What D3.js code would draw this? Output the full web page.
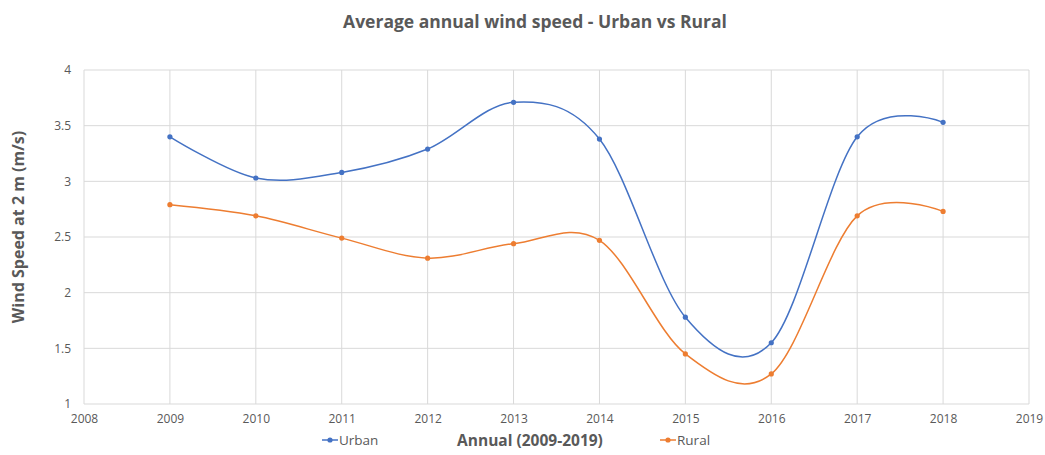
<!DOCTYPE html>
<html>
<head>
<meta charset="utf-8">
<script src="https://cdn.jsdelivr.net/npm/d3@7"></script>
<style>
  body { margin: 0; background: #fff; }
  svg { display: block; }
</style>
</head>
<body>
<svg id="chart"></svg>
<script>
// data
const years = [2009, 2010, 2011, 2012, 2013, 2014, 2015, 2016, 2017, 2018];
const urban = [3.40, 3.03, 3.08, 3.29, 3.71, 3.38, 1.78, 1.55, 3.40, 3.53];
const rural = [2.79, 2.69, 2.49, 2.31, 2.44, 2.47, 1.45, 1.27, 2.69, 2.73];
const xTicks = [2008, 2009, 2010, 2011, 2012, 2013, 2014, 2015, 2016, 2017, 2018, 2019];
const yTicks = [1, 1.5, 2, 2.5, 3, 3.5, 4];

const width = 1045;
const height = 455;
const margin = { top: 70, right: 16, bottom: 51, left: 84 };
const chartWidth = width - margin.left - margin.right;
const chartHeight = height - margin.top - margin.bottom;

const fontFamily = "'Open Sans', 'Noto Sans', sans-serif";
const textColor = "#595959";

const series = [
    { name: "Urban", values: urban, colour: "#4472C4" },
    { name: "Rural", values: rural, colour: "#ED7D31" }
];

const svg = d3.select("#chart")
    .attr("width", width)
    .attr("height", height);

const xScale = d3.scaleLinear()
    .domain([2008, 2019])
    .range([0, chartWidth]);

const yScale = d3.scaleLinear()
    .domain([1, 4])
    .range([chartHeight, 0]);

const chart = svg.append("g")
    .attr("transform", "translate(" + margin.left + "," + margin.top + ")");

// gridlines
chart.append("g")
    .selectAll("line.h")
    .data(yTicks)
    .join("line")
    .attr("x1", 0)
    .attr("x2", chartWidth)
    .attr("y1", d => yScale(d))
    .attr("y2", d => yScale(d))
    .style("stroke", "#d9d9d9")
    .style("stroke-width", 1);

chart.append("g")
    .selectAll("line.v")
    .data(xTicks)
    .join("line")
    .attr("x1", d => xScale(d))
    .attr("x2", d => xScale(d))
    .attr("y1", 0)
    .attr("y2", chartHeight)
    .style("stroke", "#d9d9d9")
    .style("stroke-width", 1);

// axes, text only
const xAxis = d3.axisBottom(xScale)
    .tickValues(xTicks)
    .tickFormat(d3.format("d"))
    .tickSize(0)
    .tickPadding(10);

const yAxis = d3.axisLeft(yScale)
    .tickValues(yTicks)
    .tickFormat(d => d)
    .tickSize(0)
    .tickPadding(13);

const gx = chart.append("g")
    .attr("transform", "translate(0," + chartHeight + ")")
    .call(xAxis);
const gy = chart.append("g").call(yAxis);

[gx, gy].forEach(g => {
    g.select(".domain").remove();
    g.selectAll("text")
        .style("font-family", fontFamily)
        .style("font-size", "12px")
        .style("fill", textColor);
});

// lines and markers
series.forEach(s => {
    const lineData = d3.line()
        .x((d, i) => xScale(years[i]))
        .y(d => yScale(d))
        .curve(d3.curveCardinal.tension(0));

    chart.append("path")
        .datum(s.values)
        .style("fill", "none")
        .style("stroke", s.colour)
        .style("stroke-width", "1.5px")
        .attr("d", lineData);

    chart.append("g")
        .selectAll("circle")
        .data(s.values)
        .join("circle")
        .attr("cx", (d, i) => xScale(years[i]))
        .attr("cy", d => yScale(d))
        .attr("r", 2.6)
        .style("fill", s.colour);
});

// title
svg.append("text")
    .attr("x", 535)
    .attr("y", 28)
    .attr("text-anchor", "middle")
    .style("font-family", fontFamily)
    .style("font-size", "17.5px")
    .style("font-weight", "bold")
    .style("fill", textColor)
    .text("Average annual wind speed - Urban vs Rural");

// axis titles
svg.append("text")
    .attr("x", 530)
    .attr("y", 446)
    .attr("text-anchor", "middle")
    .style("font-family", fontFamily)
    .style("font-size", "15.5px")
    .style("font-weight", "bold")
    .style("fill", textColor)
    .text("Annual (2009-2019)");

svg.append("text")
    .attr("transform", "translate(24," + (margin.top + chartHeight / 2 - 10) + ") rotate(-90)")
    .attr("text-anchor", "middle")
    .style("font-family", fontFamily)
    .style("font-size", "16px")
    .style("font-weight", "bold")
    .style("fill", textColor)
    .text("Wind Speed at 2 m (m/s)");

// legend
const legendX = [322, 660];
series.forEach((s, i) => {
    const lg = svg.append("g")
        .attr("transform", "translate(" + legendX[i] + ",440)");
    lg.append("line")
        .attr("x1", 0).attr("x2", 16)
        .attr("y1", 0).attr("y2", 0)
        .style("stroke", s.colour)
        .style("stroke-width", "1.5px");
    lg.append("circle")
        .attr("cx", 8).attr("cy", 0).attr("r", 2.6)
        .style("fill", s.colour);
    lg.append("text")
        .attr("x", 17)
        .attr("y", 5)
        .style("font-family", fontFamily)
        .style("font-size", "13.5px")
        .style("fill", textColor)
        .text(s.name);
});
</script>
</body>
</html>
